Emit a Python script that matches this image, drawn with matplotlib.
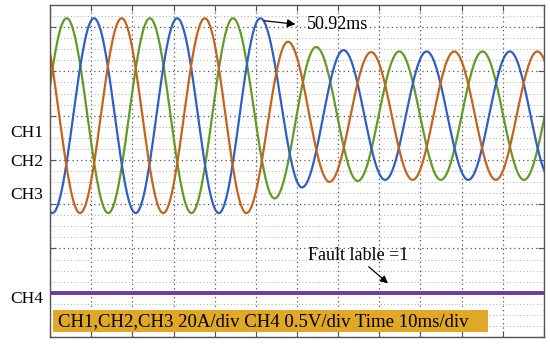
import numpy as np
import matplotlib.pyplot as plt
from matplotlib.patches import Rectangle

# ----- scope traces -----
# extremes of each phase current: time (ms), value (A)
green_t = [-6.05, 4.05, 14.15, 24.25, 34.35, 44.45, 54.55, 64.65, 74.75, 84.85, 94.95, 105.05, 115.15, 125.25]
green_v = [-44, 44, -44, 44, -44, 44, -37.4, 31, -29.5, 29, -29, 29, -29, 29]

blue_t = [-9.5, 0.6, 10.7, 20.8, 30.9, 41.0, 51.1, 61.2, 71.3, 81.4, 91.5, 101.6, 111.7, 121.8]
blue_v = [44, -44, 44, -44, 44, -44, 44, -32.4, 29.6, -29, 29, -29, 29, -29]

orange_t = [-2.8, 7.3, 17.4, 27.5, 37.6, 47.7, 57.8, 67.9, 78.0, 88.1, 98.2, 108.3, 118.4, 128.5]
orange_v = [44, -44, 44, -44, 44, -44, 33.4, -29.9, 28.7, -29, 29, -29, 29, -29]

ch4_t = [0, 120]
ch4_v = [1.0, 1.0]  # divisions

amp_per_div = 20.0   # CH1-3 20A/div
ch_offset = 5.0      # CH1-3 ground position (div)


def trace(t_ext, v_ext, n=60):
    # half-cosine between successive extremes
    tt, vv = [], []
    for i in range(len(t_ext) - 1):
        t0, t1 = t_ext[i], t_ext[i + 1]
        v0, v1 = v_ext[i], v_ext[i + 1]
        s = np.linspace(0, 1, n, endpoint=False)
        tt.append(t0 + s * (t1 - t0))
        vv.append((v0 + v1) / 2 + (v0 - v1) / 2 * np.cos(np.pi * s))
    return np.concatenate(tt), np.concatenate(vv)


fig = plt.figure(figsize=(5.5, 3.44), dpi=100)
ax = fig.add_axes([50 / 550, 7 / 344, 494 / 550, 332 / 344])

ax.set_xlim(0, 120)
ax.set_ylim(0, 7.5)

# grid: major dotted, minor (quarter div) horizontal lighter
ax.set_xticks(np.arange(0, 121, 10))
ax.set_yticks(np.arange(0, 8, 1))
ax.set_yticks(np.arange(0, 7.6, 0.25), minor=True)
ax.grid(True, which='major', color='#555555', ls=(0, (1, 2.5)), lw=0.9)
ax.grid(True, which='minor', axis='y', color='#aaaaaa', ls=(0, (1, 2.5)), lw=0.7)
ax.tick_params(which='major', direction='in', length=4, color='#555555',
               top=True, right=True, labelbottom=False, labelleft=False)
ax.tick_params(which='minor', length=0)
for s in ax.spines.values():
    s.set_color('#555555')
    s.set_linewidth(1.0)

for t_ext, v_ext, c in [(green_t, green_v, '#629a25'),
                        (blue_t, blue_v, '#2f5fc4'),
                        (orange_t, orange_v, '#c4631c')]:
    tt, vv = trace(t_ext, v_ext)
    ax.plot(tt, ch_offset + np.array(vv) / amp_per_div, color=c, lw=1.6)

ax.plot(ch4_t, ch4_v, color='#6f3a9c', lw=2.8)

serif = 'Liberation Serif'

ax.annotate('', xy=(60.3, 7.06), xytext=(51.4, 7.15),
            arrowprops=dict(arrowstyle='-|>', color='black', lw=0.9, mutation_scale=12))
ax.text(62.3, 7.05, '50.92ms', fontsize=13, family=serif, va='center', ha='left')

ax.annotate('', xy=(82.6, 1.17), xytext=(76.9, 1.63),
            arrowprops=dict(arrowstyle='-|>', color='black', lw=0.9, mutation_scale=11))
ax.text(62.7, 1.83, 'Fault lable =1', fontsize=13, family=serif, va='center', ha='left')

ax.add_patch(Rectangle((0.7, 0.11), 105.7, 0.5, facecolor='#e1a726',
                       edgecolor='none', zorder=3))
ax.text(1.9, 0.35, 'CH1,CH2,CH3 20A/div CH4 0.5V/div Time 10ms/div',
        fontsize=13.5, family=serif, va='center', ha='left', zorder=4)

for lab, y in [('CH1', 133), ('CH2', 162), ('CH3', 195), ('CH4', 299)]:
    fig.text(43 / 550, 1 - y / 344, lab, fontsize=12.5, family=serif,
             ha='right', va='center')

fig.savefig('out.png', dpi=100)
